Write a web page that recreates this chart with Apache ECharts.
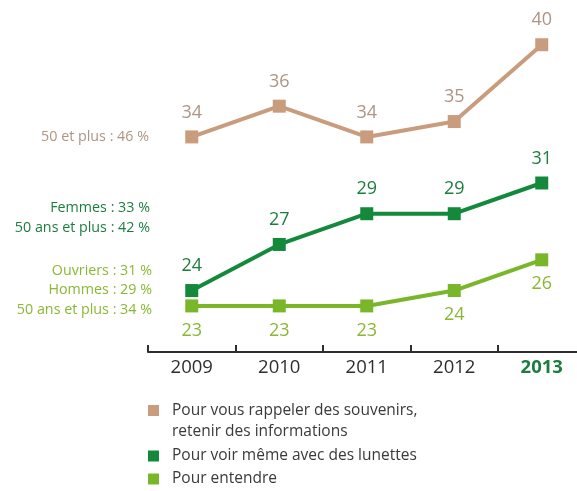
<!DOCTYPE html>
<html>
<head>
<meta charset="utf-8">
<script src="https://cdn.jsdelivr.net/npm/echarts@6/dist/echarts.min.js"></script>
<style>
  html, body { margin: 0; padding: 0; background: #fff; }
  #chart { width: 577px; height: 491px; }
</style>
</head>
<body>
<div id="chart"></div>
<script>
// Years on the horizontal axis
const years = ['2009', '2010', '2011', '2012', '2013'];

// Series names (legend entries)
const nameMemory = 'Pour vous rappeler des souvenirs,\nretenir des informations';
const nameSight = 'Pour voir même avec des lunettes';
const nameHearing = 'Pour entendre';

// Values in %
const memoryValues = [34, 36, 34, 35, 40];
const sightValues = [24, 27, 29, 29, 31];
const hearingValues = [23, 23, 23, 24, 26];

// Side notes for each series
const memoryNotes = ['50 et plus : 46 %'];
const sightNotes = ['Femmes : 33 %', '50 ans et plus : 42 %'];
const hearingNotes = ['Ouvriers : 31 %', 'Hommes : 29 %', '50 ans et plus : 34 %'];

const FONT = 'Open Sans';
const C_BROWN = '#c99c7e', C_BROWN_T = '#ae9482';
const C_DARK = '#14893c', C_DARK_T = '#1d7d3f';
const C_LIGHT = '#79b62a', C_LIGHT_T = '#8ab834';

const chart = echarts.init(document.getElementById('chart'));

function lineSeries(name, data, color, textColor, pos) {
  return {
    name: name,
    type: 'line',
    data: data,
    symbol: 'rect',
    symbolSize: 13,
    itemStyle: { color: color },
    lineStyle: { color: color, width: 4 },
    label: {
      show: true,
      position: pos,
      distance: 9,
      color: textColor,
      fontFamily: FONT,
      fontSize: 18
    },
    animation: false
  };
}

// One right-aligned text element per line of a side note
function noteBlock(lines, color, rightX, centerY) {
  const lh = 19.5;
  const y0 = centerY - (lines.length - 1) * lh / 2;
  return lines.map(function (line, i) {
    return {
      type: 'text',
      x: rightX,
      y: y0 + i * lh,
      style: {
        text: line,
        fill: color,
        font: '14.3px "' + FONT + '"',
        align: 'right',
        verticalAlign: 'middle'
      }
    };
  });
}

function legendItem(name, top, multiLine) {
  return {
    data: [name],
    left: 148,
    top: top,
    padding: 0,
    icon: 'rect',
    itemWidth: 11,
    itemHeight: 11,
    selectedMode: false,
    // a leading blank line keeps the icon level with the first line of text
    formatter: multiLine ? function (n) { return ' \n' + n; } : '{name}',
    textStyle: {
      fontFamily: FONT,
      fontSize: 15.5,
      color: '#3a3a3a',
      lineHeight: 21,
      padding: [0, 0, 0, 8]
    }
  };
}

chart.setOption({
  animation: false,
  grid: { left: 148, top: 14, width: 437.5, height: 338, outerBoundsMode: 'none', containLabel: false },
  xAxis: {
    type: 'category',
    data: years,
    boundaryGap: true,
    axisLine: { lineStyle: { color: '#2e2e2e', width: 2 } },
    axisTick: { show: true, inside: true, length: 7, interval: 0, lineStyle: { color: '#2e2e2e', width: 2 } },
    axisLabel: {
      interval: 0,
      margin: 6,
      fontFamily: FONT,
      fontSize: 18.5,
      color: '#2e2e2e',
      formatter: function (v, i) {
        return i === years.length - 1 ? '{b|' + v + '}' : v;
      },
      rich: {
        b: { fontFamily: FONT, fontSize: 18.5, fontWeight: 'bold', color: C_DARK_T }
      }
    }
  },
  yAxis: {
    type: 'value',
    min: 20,
    max: 42,
    show: false,
    splitLine: { show: false }
  },
  legend: [
    legendItem(nameMemory, 379, true),
    legendItem(nameSight, 445.5, false),
    legendItem(nameHearing, 468.5, false)
  ],
  series: [
    lineSeries(nameMemory, memoryValues, C_BROWN, C_BROWN_T, 'top'),
    lineSeries(nameSight, sightValues, C_DARK, C_DARK_T, 'top'),
    lineSeries(nameHearing, hearingValues, C_LIGHT, C_LIGHT_T, 'bottom')
  ],
  graphic: [].concat(
    noteBlock(memoryNotes, C_BROWN_T, 149, 137),
    noteBlock(sightNotes, C_DARK_T, 150, 218),
    noteBlock(hearingNotes, C_LIGHT_T, 152, 290)
  )
});
</script>
</body>
</html>
